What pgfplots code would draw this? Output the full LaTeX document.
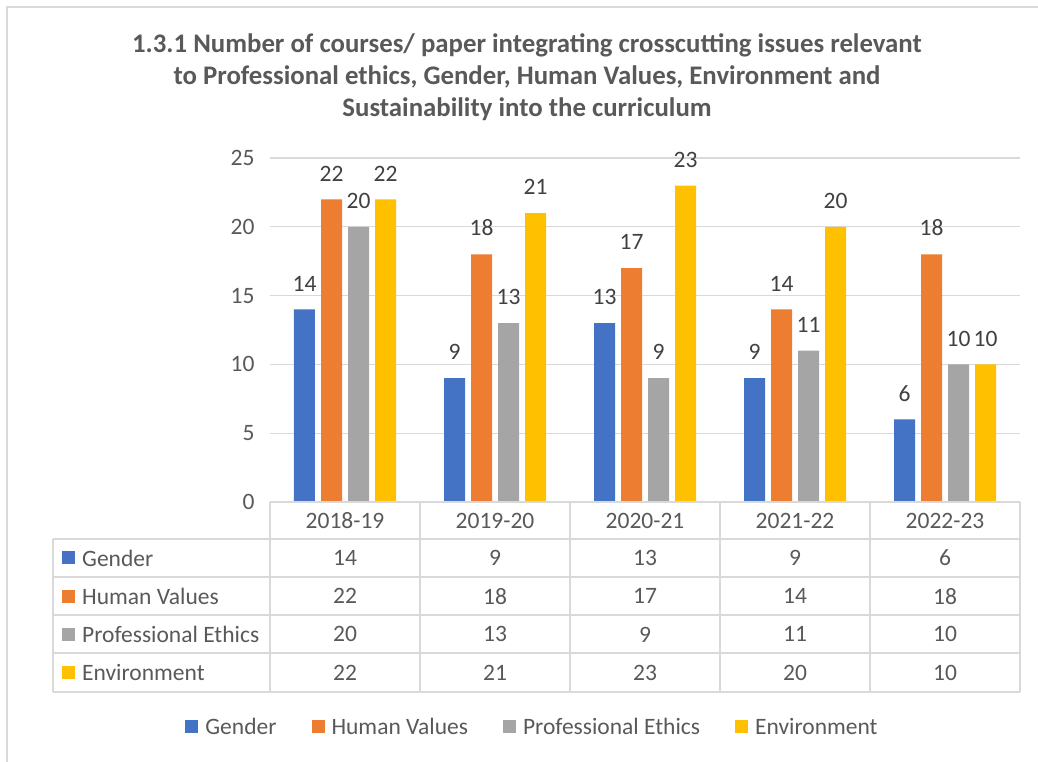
\documentclass[border=0pt]{standalone}
\usepackage{pgfplots}
\pgfplotsset{compat=1.18}
\usepackage{pgfplotstable}
\usepackage{fontspec}
\setmainfont{Carlito}
\definecolor{cblue}{HTML}{4472C4}
\definecolor{corange}{HTML}{ED7D31}
\definecolor{cgray}{HTML}{A5A5A5}
\definecolor{cgold}{HTML}{FFC000}
\definecolor{txt}{HTML}{595959}
\definecolor{lbl}{HTML}{404040}
\definecolor{gridc}{HTML}{D9D9D9}
\pgfplotstableread{
x gender human prof env
0 14 22 20 22
1 9 18 13 21
2 13 17 9 23
3 9 14 11 20
4 6 18 10 10
}\data
\newcommand{\tf}{\fontsize{23.5}{28}\selectfont}
\begin{document}
\begin{tikzpicture}[x=1pt,y=1pt]
\useasboundingbox (-270,-260) rectangle (768,502);
\draw[gridc, line width=1.2pt] (-263,-262) -- (-263,495) -- (770,495);
\node[align=center, font=\bfseries\fontsize{26.8}{32}\selectfont, text=txt] at (257,425)
  {1.3.1 Number of courses/ paper integrating crosscutting issues relevant\\
   to Professional ethics, Gender, Human Values, Environment and\\
   Sustainability into the curriculum};
\begin{axis}[
  at={(0,0)}, anchor=south west,
  scale only axis, width=750pt, height=344pt,
  xmin=-0.5, xmax=4.5, ymin=0, ymax=25,
  ytick={0,5,...,25}, xtick=\empty,
  ymajorgrids, grid style={gridc, line width=1.2pt},
  axis line style={draw=none},
  major tick style={draw=none},
  /pgf/number format/assume math mode=true,
  yticklabel style={font=\tf, text=txt, xshift=-12pt},
  ybar=6pt, bar width=21pt,
  nodes near coords,
  every node near coord/.append style={font=\tf, text=lbl, inner sep=0pt, yshift=18pt},
  legend columns=4,
  legend style={at={(0.35,-0.654)}, anchor=center, draw=none, fill=none,
    font=\tf, text=txt,
    /tikz/every odd column/.append style={column sep=5pt},
    /tikz/every even column/.append style={column sep=33pt}},
  legend image code/.code={\fill[#1, draw=none] (0pt,-6.5pt) rectangle (13pt,6.5pt);},
  clip=false,
]
\addplot[fill=cblue, draw=none] table[x=x, y=gender] {\data};
\addplot[fill=corange, draw=none] table[x=x, y=human] {\data};
\addplot[fill=cgray, draw=none] table[x=x, y=prof] {\data};
\addplot[fill=cgold, draw=none] table[x=x, y=env] {\data};
\legend{Gender, Human Values, Professional Ethics, Environment}
\end{axis}
% data table
\begin{scope}[gridc, line width=1.2pt]
\draw (0,0) -- (750,0);
\foreach \yy in {-37,-75,-113,-151,-190} \draw (-217,\yy) -- (750,\yy);
\foreach \xx in {0,150,300,450,600,750} \draw (\xx,0) -- (\xx,-190);
\draw (-217,-37) -- (-217,-190);
\end{scope}
\foreach \lab [count=\i from 0] in {2018-19,2019-20,2020-21,2021-22,2022-23}
  \node[font=\tf, text=txt] at ({75+150*\i},-18.5) {\lab};
\foreach \nm/\cl [count=\k] in {Gender/cblue,Human Values/corange,Professional Ethics/cgray,Environment/cgold} {
  \fill[\cl] (-208,{-17.8-38.2*\k-6.5}) rectangle (-195,{-17.8-38.2*\k+6.5});
  \node[font=\tf, text=txt, anchor=west, inner sep=0pt] at (-188,{-17.8-38.2*\k}) {\nm};
}
\foreach \r in {0,...,4} {
  \foreach \c [count=\k] in {gender,human,prof,env} {
    \pgfplotstablegetelem{\r}{\c}\of\data
    \node[font=\tf, text=txt] at ({75+150*\r},{-17.8-38.2*\k}) {\pgfplotsretval};
  }
}
\end{tikzpicture}
\end{document}
